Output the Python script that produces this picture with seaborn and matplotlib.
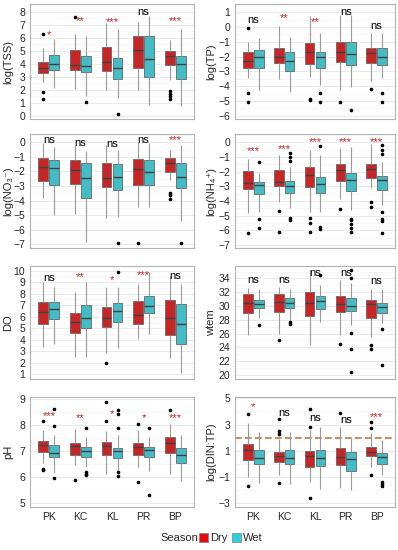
import matplotlib

matplotlib.use("Agg")
import matplotlib.pyplot as plt
import numpy as np
import pandas as pd
import seaborn as sns
from matplotlib.patches import Patch
from matplotlib.ticker import AutoMinorLocator

SITES = ["PK", "KC", "KL", "PR", "BP"]
SEASONS = ["Dry", "Wet"]
COLORS = {"Dry": "#E30B0B", "Wet": "#2ECFDC"}

# box summaries: (lower whisker, q1, median, q3, upper whisker)
TSS_DRY = [(2.6, 3.29, 3.68, 4.11, 5.2), (2.05, 3.5, 3.93, 5.04, 6.3), (2.0, 3.42, 4.11, 5.3, 7.1),
           (2.0, 3.7, 5.04, 6.17, 7.2), (2.78, 3.93, 4.58, 4.96, 5.86)]
TSS_DRY_OUT = [[6.3, 1.8, 1.3], [7.6], [], [], [1.88, 1.7, 1.49, 1.29]]
TSS_WET = [(2.13, 3.5, 3.98, 4.7, 5.9), (1.5, 3.34, 3.8, 4.58, 6.1), (1.36, 2.83, 3.68, 4.45, 6.7),
           (0.8, 2.98, 4.37, 6.1, 7.7), (0.72, 2.83, 3.98, 4.58, 6.68)]
TSS_WET_OUT = [[], [1.03], [0.15], [], []]
TSS_SIG = ["*", "**", "***", "ns", "***"]
TSS_SIG_Y = [6.2, 7.3, 7.2, 8.0, 7.3]

TP_DRY = [(-3.46, -2.74, -2.29, -1.70, -0.98), (-3.5, -2.4, -2.0, -1.39, 0.1), (-3.35, -2.51, -1.72, -1.09, 0.75),
          (-4.25, -2.38, -1.66, -0.98, 0.82), (-3.62, -2.45, -1.77, -1.43, -0.42)]
TP_DRY_OUT = [[-0.04, -4.43, -5.04], [], [-4.86, -4.95], [-5.1], [-4.2]]
TP_WET = [(-4.29, -2.74, -2.0, -1.55, -0.76), (-4.36, -3.0, -2.27, -1.7, -0.69), (-3.9, -2.78, -2.04, -1.72, -0.37),
          (-4.07, -2.56, -1.84, -1.03, 0.82), (-3.46, -2.56, -2.04, -1.43, -0.42)]
TP_WET_OUT = [[], [], [-4.43, -5.1], [-5.6], [-4.47, -5.1]]
TP_SIG = ["ns", "**", "**", "ns", "ns"]
TP_SIG_Y = [0.48, 0.6, 0.37, 1.0, 0.08]

NO3_DRY = [(-3.84, -2.63, -1.67, -1.1, -0.07), (-4.92, -2.86, -1.9, -1.21, -0.18), (-5.22, -3.09, -2.47, -1.44, -0.18),
           (-4.46, -2.93, -1.85, -1.14, 0.0), (-2.59, -2.01, -1.44, -1.1, -0.53)]
NO3_DRY_OUT = [[], [], [], [-6.89], [-3.46, -3.62, -3.91]]
NO3_WET = [(-4.99, -2.93, -1.78, -1.21, -0.3), (-6.82, -3.84, -2.47, -1.44, -0.57), (-5.15, -3.27, -2.36, -1.51, -0.53),
           (-4.46, -2.93, -2.01, -1.21, -0.07), (-5.38, -3.16, -2.36, -1.44, -0.18)]
NO3_WET_OUT = [[], [], [-6.89], [], [-6.89]]
NO3_SIG = ["ns", "ns", "ns", "ns", "***"]
NO3_SIG_Y = [0.16, -0.07, -0.11, 0.16, 0.16]

NH4_DRY = [(-4.84, -3.2, -2.8, -1.93, -1.16), (-4.05, -2.98, -2.68, -1.89, -0.86), (-4.73, -3.02, -2.23, -1.7, -0.52),
           (-3.89, -2.61, -1.89, -1.5, -0.41), (-3.14, -2.45, -1.84, -1.48, -0.11)]
NH4_DRY_OUT = [[-6.16], [-4.68, -6.09], [-5.18, -5.52, -6.09], [-4.57], [-4.05, -4.39]]
NH4_WET = [(-4.73, -3.52, -2.91, -2.68, -2.1), (-4.5, -3.43, -2.98, -2.61, -1.66), (-4.73, -3.48, -2.86, -2.39, -0.86),
           (-4.61, -3.32, -2.57, -2.07, -0.34), (-4.27, -3.25, -2.57, -2.3, -1.32)]
NH4_WET_OUT = [[-1.32, -5.25, -5.82], [-0.7, -0.98, -1.3, -5.18, -5.3], [-0.25, -5.75, -5.91],
               [-5.25, -5.3, -5.59, -5.82, -6.09], [-0.18, -0.52, -0.8, -4.73, -5.25, -5.35, -6.16]]
NH4_SIG = ["***", "***", "***", "***", "***"]
NH4_SIG_Y = [-0.57, -0.45, 0.05, 0.0, 0.05]

DO_DRY = [(3.41, 5.35, 6.45, 7.25, 9.05), (2.54, 4.62, 5.52, 6.36, 8.18), (2.83, 5.14, 5.92, 6.82, 8.6),
          (4.08, 5.35, 6.16, 7.37, 8.8), (2.46, 4.42, 5.92, 7.46, 9.5)]
DO_DRY_OUT = [[], [], [2.02], [], []]
DO_WET = [(3.64, 5.81, 6.68, 7.31, 8.6), (2.54, 5.06, 5.87, 7.02, 9.05), (3.32, 5.52, 6.5, 7.17, 8.6),
          (4.48, 6.3, 6.97, 7.83, 9.9), (1.16, 3.61, 5.35, 7.08, 8.8)]
DO_WET_OUT = [[], [], [9.91], [], []]
DO_SIG = ["ns", "**", "*", "***", "ns"]
DO_SIG_Y = [9.34, 9.42, 9.2, 9.62, 9.5]

WTEM_DRY = [(25.8, 28.93, 30.38, 31.68, 32.55), (26.0, 29.1, 30.6, 31.68, 32.8), (24.3, 28.6, 30.5, 31.97, 35.2),
            (25.8, 29.07, 30.23, 31.5, 33.76), (25.5, 28.3, 30.23, 30.86, 32.45)]
WTEM_DRY_OUT = [[], [25.06], [], [24.5], [24.4, 23.76]]
WTEM_WET = [(28.2, 29.65, 30.23, 30.86, 32.45), (27.96, 29.75, 30.5, 31.1, 32.45), (27.6, 29.6, 30.7, 31.5, 33.0),
            (27.24, 29.27, 30.04, 31.1, 33.3), (27.5, 28.93, 29.9, 30.38, 32.45)]
WTEM_WET_OUT = [[27.24], [27.6, 27.4], [34.5], [35.2, 34.0, 26.1, 23.76, 20.4], [26.6, 21.4]]
WTEM_SIG = ["ns", "ns", "ns", "ns", "ns"]
WTEM_SIG_Y = [33.76, 33.76, 34.8, 34.8, 33.6]

PH_DRY = [(6.53, 6.97, 7.23, 7.4, 7.8), (6.46, 6.85, 7.19, 7.3, 7.85), (6.1, 6.85, 7.19, 7.36, 7.77),
          (6.4, 6.85, 7.17, 7.3, 7.8), (6.1, 6.91, 7.3, 7.55, 8.06)]
PH_DRY_OUT = [[8.15, 6.3, 6.27], [5.9], [8.87, 8.15], [8.03, 5.82], [8.58]]
PH_WET = [(6.15, 6.78, 6.94, 7.23, 7.62), (6.4, 6.78, 7.0, 7.17, 7.55), (6.27, 6.75, 7.0, 7.12, 7.62),
          (6.22, 6.78, 7.06, 7.17, 7.55), (5.85, 6.53, 6.85, 7.1, 7.62)]
PH_WET_OUT = [[8.6, 7.97, 5.95], [7.87, 6.18, 6.12, 6.07], [8.58, 8.41, 7.9, 6.18, 6.05], [7.87, 5.33], []]
PH_SIG = ["***", "**", "*", "*", "***"]
PH_SIG_Y = [8.36, 8.26, 8.41, 8.26, 8.26]

DINTP_DRY = [(-0.96, 0.3, 1.07, 1.5, 3.1), (-0.84, 0.18, 0.63, 0.94, 1.9), (-1.4, -0.2, 0.61, 0.99, 2.6),
             (-1.8, -0.08, 0.56, 1.19, 2.84), (-0.2, 0.61, 0.94, 1.32, 2.33)]
DINTP_DRY_OUT = [[3.8, -1.65], [3.43, 2.51, 2.26, -1.47], [4.19, 2.84, -2.56], [3.86], [3.17, 2.72, -0.84]]
DINTP_WET = [(-1.47, -0.03, 0.48, 1.07, 2.41), (-1.55, -0.03, 0.48, 1.07, 2.41), (-1.9, -0.13, 0.43, 1.07, 2.84),
             (-1.98, -0.53, 0.36, 0.94, 2.0), (-0.84, -0.03, 0.56, 0.86, 1.83)]
DINTP_WET_OUT = [[], [], [], [], [-1.4, -1.55, -1.65]]
DINTP_SIG = ["*", "ns", "ns", "ns", "***"]
DINTP_SIG_Y = [4.37, 3.86, 3.48, 3.35, 3.6]
DINTP_REF = 2.0

# each summary value is repeated so the quartiles stay put when outliers are added
REPS = 40


def build_frame(dry, dry_out, wet, wet_out):
    rows = []
    for season, stats, outs in [("Dry", dry, dry_out), ("Wet", wet, wet_out)]:
        for site, five, extra in zip(SITES, stats, outs):
            values = list(np.repeat(five, REPS)) + list(extra)
            rows += [(site, season, v) for v in values]
    return pd.DataFrame(rows, columns=["site", "season", "value"])


PANELS = [
    ("log(TSS)", TSS_DRY, TSS_DRY_OUT, TSS_WET, TSS_WET_OUT, TSS_SIG, TSS_SIG_Y, (-0.25, 8.6), np.arange(0, 9, 1)),
    ("log(TP)", TP_DRY, TP_DRY_OUT, TP_WET, TP_WET_OUT, TP_SIG, TP_SIG_Y, (-6.22, 1.56), np.arange(-6, 2, 1)),
    ("log(NO\u2083\u207b)", NO3_DRY, NO3_DRY_OUT, NO3_WET, NO3_WET_OUT, NO3_SIG, NO3_SIG_Y, (-7.25, 0.57), np.arange(-7, 1, 1)),
    ("log(NH\u2084\u207a)", NH4_DRY, NH4_DRY_OUT, NH4_WET, NH4_WET_OUT, NH4_SIG, NH4_SIG_Y, (-7.2, 0.57), np.arange(-7, 1, 1)),
    ("DO", DO_DRY, DO_DRY_OUT, DO_WET, DO_WET_OUT, DO_SIG, DO_SIG_Y, (0.6, 10.4), np.arange(1, 11, 1)),
    ("wtem", WTEM_DRY, WTEM_DRY_OUT, WTEM_WET, WTEM_WET_OUT, WTEM_SIG, WTEM_SIG_Y, (19.4, 35.8), np.arange(20, 35, 2)),
    ("pH", PH_DRY, PH_DRY_OUT, PH_WET, PH_WET_OUT, PH_SIG, PH_SIG_Y, (4.85, 9.08), np.arange(5, 10, 1)),
    ("log(DIN:TP)", DINTP_DRY, DINTP_DRY_OUT, DINTP_WET, DINTP_WET_OUT, DINTP_SIG, DINTP_SIG_Y, (-3.27, 5.1), np.arange(-3, 6, 2)),
]

sns.set_theme(style="white")
plt.rcParams["font.family"] = ["Liberation Sans", "DejaVu Sans"]

W, H = 398, 550
fig = plt.figure(figsize=(W / 100, H / 100), dpi=100)

col_left = [30, 235]
col_width = [164, 160]
row_box = [(4, 119), (134, 248), (266, 379), (397, 507)]
label_right = [13, 216]  # right edge of the y-axis titles, in pixels

for idx, (ylabel, dry, dry_out, wet, wet_out, sig, sig_y, ylim, yticks) in enumerate(PANELS):
    r, c = divmod(idx, 2)
    top, bottom = row_box[r]
    ax = fig.add_axes([col_left[c] / W, 1 - bottom / H, col_width[c] / W, (bottom - top) / H])
    df = build_frame(dry, dry_out, wet, wet_out)

    ax.set_axisbelow(True)
    ax.yaxis.set_minor_locator(AutoMinorLocator(2))
    ax.grid(True, which="major", color="0.9", lw=0.6)
    ax.grid(True, which="minor", axis="y", color="0.95", lw=0.4)

    if ylabel == "log(DIN:TP)":
        ax.axhline(DINTP_REF, color="#C8743F", lw=1.2, ls=(0, (4, 2)), zorder=1)

    sns.boxplot(
        data=df, x="site", y="value", hue="season", order=SITES, hue_order=SEASONS,
        palette=COLORS, width=0.7, gap=0.1, linewidth=0.6, linecolor="0.4",
        showcaps=False, fliersize=1.6, legend=False, ax=ax,
        whiskerprops=dict(color="0.6", lw=0.8),
        medianprops=dict(color="0.25", lw=1.0),
        flierprops=dict(marker="o", markerfacecolor="black", markeredgecolor="black"),
    )

    for i, (lab, y) in enumerate(zip(sig, sig_y)):
        color = "black" if lab == "ns" else "#D02020"
        ax.text(i, y, lab, ha="center", va="center", fontsize=8, color=color)

    ax.set_ylim(*ylim)
    ax.set_yticks(yticks)
    ax.set_xlim(-0.6, 4.6)
    ax.set_ylabel(ylabel, fontsize=8)
    ax.yaxis.set_label_coords((label_right[c] - col_left[c]) / col_width[c], 0.5)
    ax.set_xlabel("")
    ax.tick_params(axis="both", labelsize=7.5, length=2, color="0.5", pad=1.5)
    ax.tick_params(axis="y", which="minor", length=0)
    if r < 3:
        ax.tick_params(axis="x", labelbottom=False)
    for s in ax.spines.values():
        s.set_color("0.7")
        s.set_linewidth(0.8)

ly = 1 - 538 / H
fig.text(198 / W, ly, "Season", ha="right", va="center", fontsize=8)
handles = [Patch(facecolor=COLORS[s], edgecolor="0.5", lw=0.5) for s in SEASONS]
fig.legend(handles, SEASONS, loc="center left", bbox_to_anchor=(199 / W, ly), ncol=2,
           frameon=False, fontsize=8, handlelength=0.8, handleheight=0.9,
           handletextpad=0.2, columnspacing=0.4, borderpad=0, borderaxespad=0)

fig.savefig("out.png", dpi=100)
